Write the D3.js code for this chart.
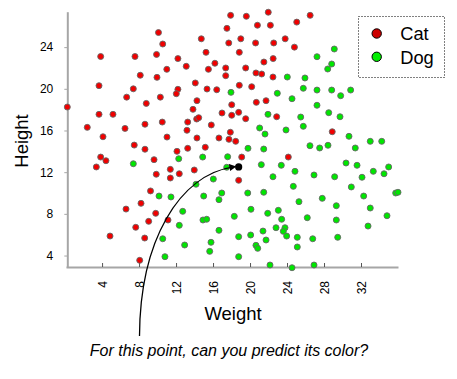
<!DOCTYPE html>
<html>
<head>
<meta charset="utf-8">
<script src="https://cdn.jsdelivr.net/npm/d3@7"></script>
<style>
    body { margin: 0; background: #fff; }
    svg { font-family: "Liberation Sans", Arial, sans-serif; }
    .axis .domain { stroke: #a6a6a6; stroke-width: 2px; }
    .y-axis .tick line { stroke: #a6a6a6; }
    .x-axis .tick line { stroke: #555; }
    .axis text { font-size: 12px; fill: #000; }
</style>
</head>
<body>
<div id="chart"></div>
<script>
// weight, height
const cats = [
    [10.1, 25.4], [3.85, 23.1], [7.56, 23.1], [9.89, 23.3], [8.13, 21.3], [9.94, 21.1], [3.67, 20.3],
    [7.38, 20.0], [6.66, 19.2], [10.3, 19.2], [0.24, 18.25], [8.78, 18.6], [3.67, 17.55], [5.18, 17.55],
    [2.4, 16.3], [6.48, 16.2], [8.64, 16.6], [4.1, 15.4], [7.48, 14.6], [8.64, 14.2], [3.85, 13.45],
    [4.42, 13.1], [3.38, 12.5], [9.62, 13.2], [9.86, 11.8], [9.24, 10.2], [6.59, 8.46], [8.21, 9.01],
    [9.8, 8.05], [9.04, 7.28], [7.64, 6.71], [4.86, 5.87], [8.61, 5.68], [8.07, 3.54],
    [17.9, 27.05], [19.6, 26.96], [21.97, 27.35], [26.5, 27.05], [17.5, 25.8], [20.8, 26.1], [22.2, 26.1],
    [25.05, 26.4], [10.56, 24.3], [14.73, 24.8], [17.7, 24.4], [19.0, 24.8], [20.6, 24.4], [22.56, 24.4],
    [23.8, 24.8], [24.8, 24.0], [15.24, 23.5], [18.84, 23.5], [12.2, 22.9], [21.5, 22.57], [22.5, 22.9],
    [11.0, 21.87], [13.1, 22.16], [16.2, 22.45], [15.5, 21.87], [17.37, 22.0], [19.53, 22.0], [17.37, 21.26],
    [20.64, 21.52], [21.26, 21.42], [22.48, 21.13], [14.08, 20.56], [12.2, 19.95], [12.03, 19.53],
    [15.35, 19.98], [16.4, 19.91], [18.84, 20.34], [20.18, 20.2], [14.26, 18.86], [18.02, 18.47],
    [20.68, 18.7], [21.73, 18.86], [13.83, 18.03], [16.97, 17.68], [18.02, 17.46], [18.77, 17.74],
    [14.23, 17.1], [14.45, 17.23], [19.53, 17.13], [22.88, 17.32], [10.51, 16.81], [13.26, 16.81],
    [15.81, 16.53], [13.18, 16.02], [11.02, 15.37], [14.26, 15.28], [16.64, 15.28], [17.72, 15.15],
    [17.87, 15.83], [18.45, 14.96], [12.1, 14.0], [13.26, 14.29], [15.16, 14.39], [19.1, 13.45],
    [24.14, 13.45], [11.38, 12.27], [11.38, 11.44], [12.35, 11.85], [13.97, 12.21], [18.77, 11.22],
    [11.13, 7.41], [28.89, 15.88]
];

const dogs = [
    [24.03, 21.13], [25.94, 21.04], [17.94, 19.66], [25.76, 20.05], [22.95, 19.57], [24.54, 19.05],
    [21.94, 17.55], [25.48, 17.29], [21.04, 16.24], [21.62, 15.66], [23.89, 16.05], [25.76, 16.4],
    [19.78, 14.29], [21.48, 14.22], [26.48, 14.54], [12.29, 13.29], [14.88, 13.45], [17.58, 13.48],
    [17.48, 12.47], [21.22, 12.72], [23.38, 12.66], [24.86, 12.08], [16.03, 11.34], [22.48, 11.56],
    [10.16, 9.71], [11.45, 9.62], [14.16, 10.84], [14.99, 9.71], [16.94, 10.0], [16.64, 9.36],
    [19.75, 10.0], [21.48, 10.07], [24.68, 10.64], [25.29, 9.17], [12.72, 8.24], [20.1, 8.44],
    [23.06, 8.34], [21.91, 8.05], [14.91, 7.41], [15.31, 7.48], [18.3, 7.76], [23.42, 7.48],
    [26.19, 7.63], [12.35, 6.9], [16.64, 6.42], [18.77, 5.81], [20.07, 5.97], [21.4, 6.35],
    [22.81, 6.67], [23.78, 6.67], [23.6, 6.32], [23.96, 5.87], [25.11, 5.75], [10.56, 5.61],
    [15.78, 5.27], [12.93, 5.01], [20.64, 4.98], [20.83, 4.69], [21.73, 5.49], [25.11, 4.82],
    [15.64, 4.4], [10.8, 3.89], [18.77, 3.89], [22.16, 3.09], [24.54, 2.83], [7.38, 12.81],
    [30.7, 15.44], [27.53, 14.32], [28.43, 14.58], [31.38, 14.32], [33.0, 14.96], [34.24, 14.96],
    [30.38, 12.88], [31.57, 12.66], [34.99, 12.5], [33.33, 12.08], [34.49, 11.85], [26.92, 11.73],
    [29.15, 11.56], [32.11, 11.51], [30.95, 10.58], [35.75, 10.0], [36.0, 10.07], [32.29, 9.71],
    [27.81, 9.49], [29.33, 8.78], [33.0, 8.56], [29.33, 7.41], [34.81, 7.82], [32.76, 6.83],
    [26.78, 5.61], [29.48, 5.75], [26.92, 3.09], [29.11, 23.82], [27.24, 23.08], [28.83, 22.38],
    [28.4, 21.9], [27.24, 19.88], [28.83, 19.88], [29.8, 19.34], [30.88, 19.88], [27.24, 18.42],
    [28.51, 17.71], [29.73, 17.32]
];

const queryPoint = [18.77, 12.5];

const xTicks = [4, 8, 12, 16, 20, 24, 28, 32];
const yTicks = [4, 8, 12, 16, 20, 24];
const legendLabels = ["Cat", "Dog"];
const xTitle = "Weight";
const yTitle = "Height";
const caption = "For this point, can you predict its color?";

class ScatterView {

    constructor(_config) {
        this.config = {
            parentElement: _config.parentElement,
            containerWidth: 457,
            containerHeight: 379,
            plot: {left: 66, right: 398, top: 11.7, bottom: 267},
        }
        this.initVis();
    }

    initVis() {
        let vis = this;
        const p = vis.config.plot;

        vis.xScale = d3.scaleLinear().domain([0.1, 36]).range([p.left, p.right]);
        vis.yScale = d3.scaleLinear().domain([2.9, 27.4]).range([p.bottom, p.top]);

        vis.svg = d3.select(vis.config.parentElement).append("svg")
            .attr("width", vis.config.containerWidth)
            .attr("height", vis.config.containerHeight);

        vis.svg.append("defs").append("marker")
            .attr("id", "arrow")
            .attr("viewBox", "0 0 10 10")
            .attr("refX", 6).attr("refY", 5)
            .attr("markerWidth", 7).attr("markerHeight", 7)
            .attr("markerUnits", "userSpaceOnUse")
            .attr("orient", "auto")
            .append("path")
            .attr("d", "M0,0 L10,5 L0,10 z")
            .attr("fill", "#000");
    }

    renderVis() {
        let vis = this;
        const p = vis.config.plot;

        // axes
        const xAxis = d3.axisBottom(vis.xScale).tickValues(xTicks).tickSize(-4).tickSizeOuter(0);
        const yAxis = d3.axisLeft(vis.yScale).tickValues(yTicks).tickSize(3).tickSizeOuter(0).tickPadding(11);

        vis.svg.append("g")
            .attr("class", "axis x-axis")
            .attr("transform", `translate(0,${p.bottom})`)
            .call(xAxis)
            .selectAll("text")
            .attr("transform", "rotate(-90)")
            .attr("x", -14).attr("y", 0)
            .attr("dy", "0.35em")
            .attr("text-anchor", "end");

        vis.svg.append("g")
            .attr("class", "axis y-axis")
            .attr("transform", `translate(${p.left + 1.3},0)`)
            .call(yAxis);

        // titles
        vis.svg.append("text")
            .attr("x", 233).attr("y", 320)
            .attr("text-anchor", "middle")
            .attr("font-size", 18.5)
            .text(xTitle);

        vis.svg.append("text")
            .attr("transform", "translate(27.5,141) rotate(-90)")
            .attr("text-anchor", "middle")
            .attr("font-size", 18.5)
            .text(yTitle);

        // points
        const drawPoints = (data, fill) => {
            vis.svg.append("g").selectAll("circle")
                .data(data)
                .join("circle")
                .attr("cx", d => vis.xScale(d[0]))
                .attr("cy", d => vis.yScale(d[1]))
                .attr("r", 3)
                .attr("fill", fill)
                .attr("stroke", "#666")
                .attr("stroke-width", 0.9);
        };
        drawPoints(cats, "#f00000");
        drawPoints(dogs, "#00e600");

        // query point and arrow
        const qx = vis.xScale(queryPoint[0]);
        const qy = vis.yScale(queryPoint[1]);
        const sx = 139.5, sy = 336;
        vis.svg.append("path")
            .attr("d", `M${sx},${sy} C${sx + 0.5},${sy - 96} ${sx + 40},${qy + 8} ${qx - 5},${qy}`)
            .attr("fill", "none")
            .attr("stroke", "#000")
            .attr("stroke-width", 1.3)
            .attr("marker-end", "url(#arrow)");

        vis.svg.append("circle")
            .attr("cx", qx).attr("cy", qy)
            .attr("r", 3.6)
            .attr("fill", "#000");

        // caption
        vis.svg.append("text")
            .attr("x", 229).attr("y", 356)
            .attr("text-anchor", "middle")
            .attr("font-size", 16)
            .attr("font-style", "italic")
            .text(caption);

        // legend
        const legend = vis.svg.append("g").attr("class", "legend");
        legend.append("rect")
            .attr("x", 358.5).attr("y", 16.5)
            .attr("width", 86).attr("height", 61)
            .attr("fill", "none")
            .attr("stroke", "#000")
            .attr("stroke-dasharray", "1,2");

        const legendColors = ["#cc0000", "#00ee00"];
        const items = legend.selectAll(".item")
            .data(legendLabels)
            .join("g")
            .attr("class", "item")
            .attr("transform", (d, i) => `translate(376.7,${33.5 + i * 23.3})`);
        items.append("circle")
            .attr("r", 4.7)
            .attr("fill", (d, i) => legendColors[i])
            .attr("stroke", "#000")
            .attr("stroke-width", 1);
        items.append("text")
            .attr("x", 23.5).attr("y", 6.8)
            .attr("font-size", 18.3)
            .text(d => d);
    }
}

const view = new ScatterView({parentElement: "#chart"});
view.renderVis();
</script>
</body>
</html>
